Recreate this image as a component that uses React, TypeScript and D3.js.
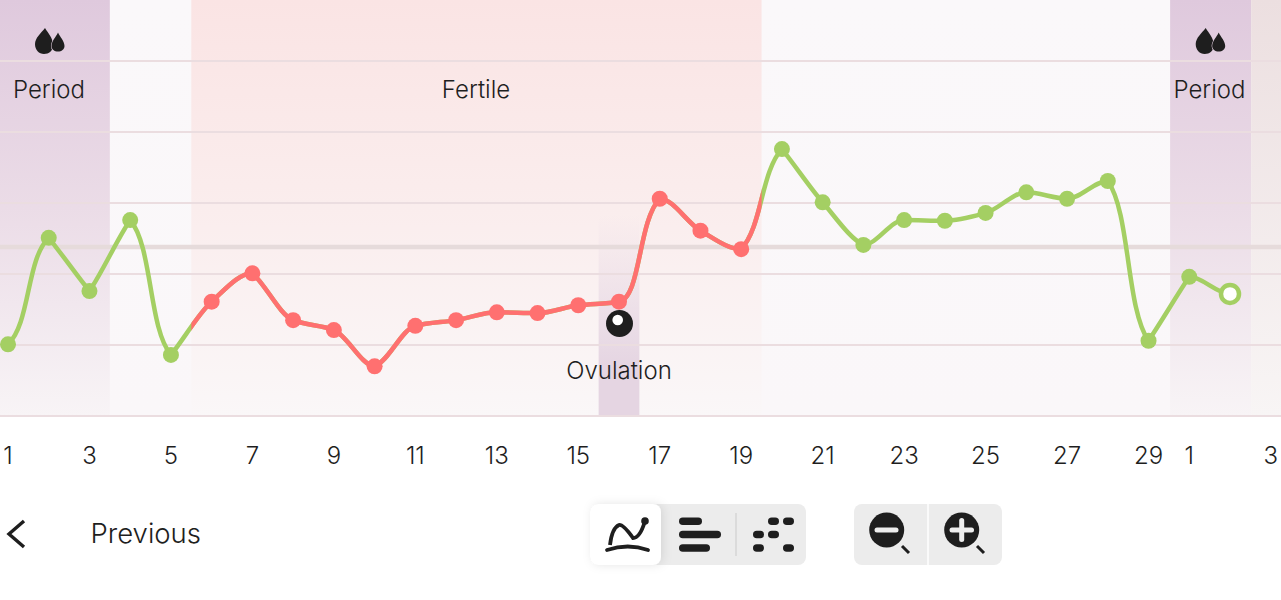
import React from "react";
import * as d3 from "d3";

const days = [1,2,3,4,5,6,7,8,9,10,11,12,13,14,15,16,17,18,19,20,21,22,23,24,25,26,27,28,29,30,31];
const temps = [36.101,36.251,36.176,36.276,36.086,36.161,36.201,36.135,36.121,36.07,36.127,36.135,36.146,36.145,36.156,36.161,36.306,36.261,36.235,36.376,36.301,36.241,36.276,36.275,36.286,36.315,36.306,36.331,36.106,36.196,36.172];
const tickDays = [1,3,5,7,9,11,13,15,17,19,21,23,25,27,29,30,32];
const tickLabels = ["1","3","5","7","9","11","13","15","17","19","21","23","25","27","29","1","3"];
const gridTemps = [36.0,36.1,36.2,36.3,36.4,36.5];
const coverLine = 36.238;
const fertileDays = [5.5, 19.5];
const periodBands = [[0.0, 3.5],[29.53, 31.52]];
const ovulationDay = 16;
const pendingIndex = 30;

const GREEN = "#a4cf63";
const RED = "#ff7070";
const INK = "#1e1e1e";
const FONT = "Inter, sans-serif";

const x = d3.scaleLinear().domain([1, 31]).range([8, 1230]);
const y = d3.scaleLinear().domain([36, 36.5]).range([416, 61]);

const clamp01 = (v: number) => Math.max(0, Math.min(1, v));
const smooth = (t: number) => t * t * (3 - 2 * t);

// Monotone-style curve: gentle turning points stay rounded, mid-size segments
// run straight, and very steep segments become an S with long handles.
function curveCycle(context: any) {
  let pts: [number, number][] = [];
  return {
    areaStart() {},
    areaEnd() {},
    lineStart() { pts = []; },
    point(a: number, b: number) { pts.push([a, b]); },
    lineEnd() {
      const n = pts.length;
      if (!n) return;
      const s = d3.pairs(pts).map(([p, q]) => (q[1] - p[1]) / (q[0] - p[0]));
      const same = (i: number) => i > 0 && i < n - 1 && s[i - 1] * s[i] > 0;
      const blend = (a: number, b: number) => (2 * a * b) / (a + b);
      const turn = (m: number) => {
        const v = Math.abs(m);
        const rise = smooth(clamp01((v - 0.8) / 0.5)) * 0.95;
        const fall = 1 - clamp01((v - 1.6) / 1.0) * 0.62;
        return m * rise * fall;
      };
      context.moveTo(pts[0][0], pts[0][1]);
      for (let i = 0; i < n - 1; i++) {
        const dx = pts[i + 1][0] - pts[i][0];
        const h = dx * (1 / 3 + 0.22 * clamp01((Math.abs(s[i]) - 1.6) / 1.0));
        const m0 = same(i) ? blend(s[i - 1], s[i]) : turn(s[i]);
        const m1 = same(i + 1) ? blend(s[i], s[i + 1]) : turn(s[i]);
        context.bezierCurveTo(pts[i][0] + h, pts[i][1] + m0 * h, pts[i + 1][0] - h, pts[i + 1][1] - m1 * h, pts[i + 1][0], pts[i + 1][1]);
      }
    },
  };
}

const line = d3.line<number>().x((_, i) => x(days[i])).y(d => y(d)).curve(curveCycle as any);

function Drops({ dx, bg }: { dx: number; bg: string }) {
  return (
    <g transform={`translate(${dx},0)`} fill={INK}>
      <path d="M45 28 C48 33 53 38 53 45 C53 51 49 54 44 54 C39 54 35 50 35 44 C35 38 41 33 45 28Z" />
      <path d="M58 32.500 C60 37 64.500 41 64.500 46 C64.500 49.500 61.500 51.500 58 51.500 C54.500 51.500 51.500 49.500 51.500 46 C51.500 41 56 37 58 32.500Z" stroke={bg} strokeWidth={1.2} paintOrder="stroke" />
    </g>
  );
}

const pill = (x0: number, x1: number, yy: number) => (
  <rect key={`${x0}-${yy}`} x={x0} y={yy} width={x1 - x0} height={7.5} rx={3.75} fill={INK} />
);

export default function App() {
  const path = line(temps) ?? "";
  const fx0 = x(fertileDays[0]);
  const fx1 = x(fertileDays[1]);
  const ox0 = x(ovulationDay - 0.5);
  const ox1 = x(ovulationDay + 0.5);
  const isRed = (d: number) => d > fertileDays[0] && d < fertileDays[1];
  return (
    <svg width={1281} height={600} style={{ position: "fixed", left: 0, top: 0, background: "#fff" }} fontFamily={FONT}>
      <defs>
        <linearGradient id="gBase" x1="0" x2="0" y1="0" y2="1">
          <stop offset="0" stopColor="#faf8fa" />
          <stop offset="1" stopColor="#faf7f9" />
        </linearGradient>
        <linearGradient id="gPeriod" x1="0" x2="0" y1="0" y2="1">
          <stop offset="0" stopColor="#dfc9dd" />
          <stop offset="0.5" stopColor="#ebdce7" />
          <stop offset="1" stopColor="#f8f4f6" />
        </linearGradient>
        <linearGradient id="gFertile" x1="0" x2="0" y1="0" y2="1">
          <stop offset="0" stopColor="#fae4e4" />
          <stop offset="0.5" stopColor="#faeded" />
          <stop offset="1" stopColor="#faf7f8" />
        </linearGradient>
        <linearGradient id="gNext" x1="0" x2="0" y1="0" y2="1">
          <stop offset="0" stopColor="#ecdfe0" />
          <stop offset="1" stopColor="#f8f5f5" />
        </linearGradient>
        <linearGradient id="gOv" x1="0" x2="0" y1="0" y2="1">
          <stop offset="0" stopColor="#e5d5e2" stopOpacity={0} />
          <stop offset="0.75" stopColor="#e5d5e2" stopOpacity={1} />
          <stop offset="1" stopColor="#e5d5e2" stopOpacity={1} />
        </linearGradient>
        <clipPath id="redClip">
          <rect x={fx0} y={0} width={fx1 - fx0} height={416} />
        </clipPath>
        <filter id="shadow" x="-30%" y="-30%" width="160%" height="160%">
          <feDropShadow dx={2} dy={0} stdDeviation={5} floodColor="#000" floodOpacity={0.1} />
        </filter>
      </defs>

      <rect x={0} y={0} width={1281} height={416} fill="url(#gBase)" />
      {periodBands.map((b, i) => (
        <rect key={i} x={i === 0 ? 0 : x(b[0])} y={0} width={i === 0 ? x(b[1]) : x(b[1]) - x(b[0])} height={416} fill="url(#gPeriod)" />
      ))}
      <rect x={x(periodBands[1][1])} y={0} width={1281 - x(periodBands[1][1])} height={416} fill="url(#gNext)" />
      <rect x={fx0} y={0} width={fx1 - fx0} height={416} fill="url(#gFertile)" />
      <rect x={ox0} y={215} width={ox1 - ox0} height={201} fill="url(#gOv)" />

      {gridTemps.map(t => (
        <line key={t} x1={0} x2={1281} y1={y(t)} y2={y(t)} stroke="#ebdde0" strokeWidth={2} />
      ))}
      <line x1={0} x2={1281} y1={y(coverLine)} y2={y(coverLine)} stroke="#e6dbdb" strokeWidth={4.5} />

      <path d={path} fill="none" stroke={GREEN} strokeWidth={4.5} />
      <path d={path} fill="none" stroke={RED} strokeWidth={4.5} clipPath="url(#redClip)" />
      {temps.map((t, i) =>
        i === pendingIndex ? (
          <circle key={i} cx={x(days[i])} cy={y(t)} r={9} fill="#fff" stroke={GREEN} strokeWidth={4.5} />
        ) : (
          <circle key={i} cx={x(days[i])} cy={y(t)} r={8} fill={isRed(days[i]) ? RED : GREEN} />
        )
      )}

      <circle cx={619.5} cy={323.5} r={13.5} fill={INK} />
      <circle cx={617.7} cy={320} r={5.3} fill="#fff" />

      <g fontSize={24} fill={INK} textAnchor="middle" fontWeight={300}>
        <text x={49} y={98}>Period</text>
        <text x={1209.5} y={98}>Period</text>
        <text x={476} y={98}>Fertile</text>
        <text x={619} y={379}>Ovulation</text>
        {tickDays.map((d, i) => (
          <text key={i} x={x(d)} y={464}>{tickLabels[i]}</text>
        ))}
      </g>
      <Drops dx={0} bg="#e3d0e0" />
      <Drops dx={1160.7} bg="#e3d0e0" />

      <path d="M24 521 L9 534 L24 547" fill="none" stroke={INK} strokeWidth={3.4} />
      <text x={90.5} y={543} fontSize={27.5} fontWeight={300} fill={INK}>Previous</text>

      <rect x={590} y={504} width={216} height={61} rx={8} fill="#ececec" />
      <rect x={590} y={504} width={71} height={61} rx={8} fill="#fff" filter="url(#shadow)" />
      <path d="M607 550 Q628 543 648 550" fill="none" stroke={INK} strokeWidth={3.8} strokeLinecap="round" />
      <path d="M610 545 Q612 528 619 525 Q623 524 633 538 Q640 538 645 521" fill="none" stroke={INK} strokeWidth={3.8} />
      <circle cx={645} cy={521} r={3.8} fill={INK} />

      {pill(679, 702, 517.5)}
      {pill(679, 721, 530.7)}
      {pill(679, 710, 544.3)}
      <line x1={736} x2={736} y1={513} y2={556} stroke="#d6d6d6" strokeWidth={1.5} />
      {pill(768, 779, 517.5)}
      {pill(783, 794, 517.5)}
      {pill(753, 764, 530.7)}
      {pill(768, 779, 530.7)}
      {pill(753, 764, 544.3)}
      {pill(783, 794, 544.3)}

      <rect x={854} y={504} width={148} height={61} rx={8} fill="#ececec" />
      <line x1={928} x2={928} y1={504} y2={565} stroke="#fff" strokeWidth={1.5} />
      <circle cx={886.7} cy={530} r={17.5} fill={INK} />
      <line x1={877} x2={896} y1={530} y2={530} stroke="#eee" strokeWidth={5} strokeLinecap="round" />
      <line x1={902} x2={909} y1={546} y2={553} stroke={INK} strokeWidth={3} />
      <circle cx={961.7} cy={530} r={17.5} fill={INK} />
      <line x1={952} x2={971.5} y1={530} y2={530} stroke="#eee" strokeWidth={5} strokeLinecap="round" />
      <line x1={961.7} x2={961.7} y1={520.5} y2={539.5} stroke="#eee" strokeWidth={5} strokeLinecap="round" />
      <line x1={977} x2={984} y1={546} y2={553} stroke={INK} strokeWidth={3} />
    </svg>
  );
}
